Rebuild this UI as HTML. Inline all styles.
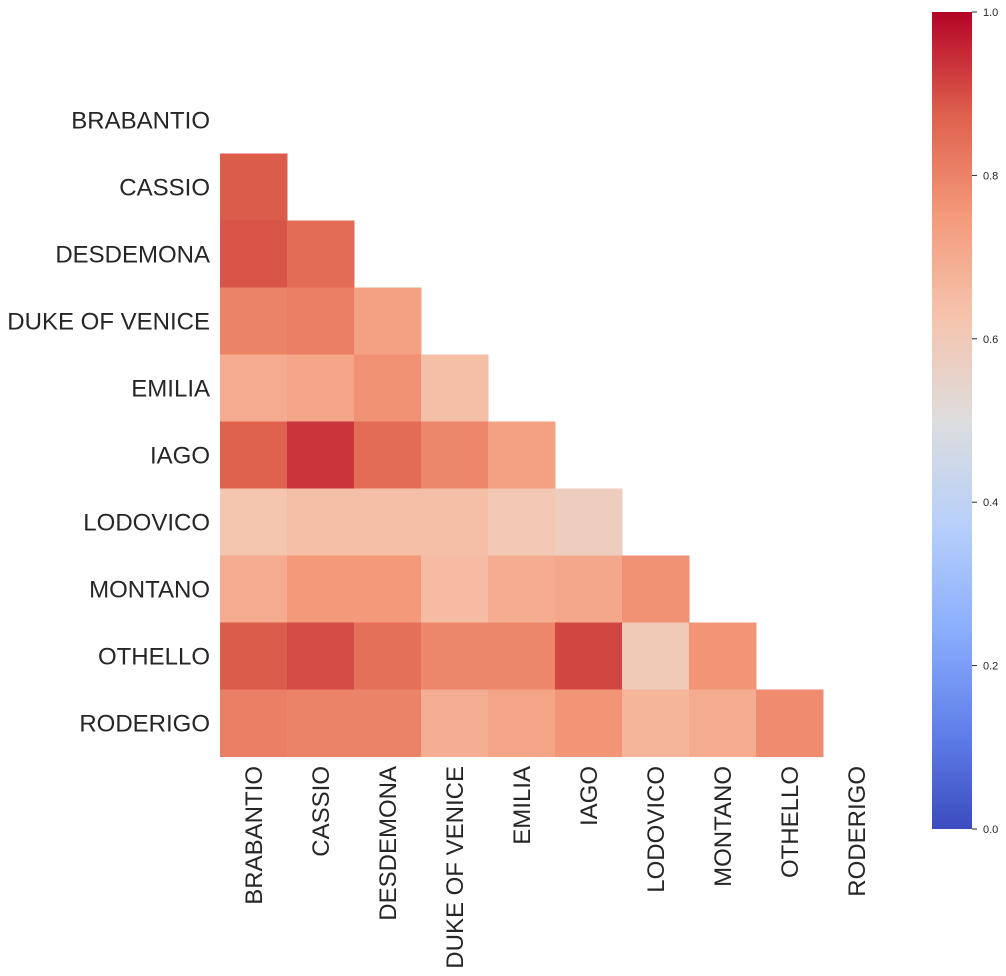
<!DOCTYPE html>
<html><head><meta charset="utf-8"><style>
html,body{margin:0;padding:0;background:#fff;}
svg{display:block;font-family:"Liberation Sans","DejaVu Sans",sans-serif;}
</style></head><body>
<svg id="chart" width="1006" height="976" viewBox="0 0 1006 976" xmlns="http://www.w3.org/2000/svg">
<defs>
<linearGradient id="cbgrad" x1="0" y1="1" x2="0" y2="0">
<stop offset="0" stop-color="rgb(59,76,192)"/>
<stop offset="0.125" stop-color="rgb(98,130,234)"/>
<stop offset="0.25" stop-color="rgb(141,176,254)"/>
<stop offset="0.375" stop-color="rgb(184,208,249)"/>
<stop offset="0.5" stop-color="rgb(221,221,221)"/>
<stop offset="0.625" stop-color="rgb(245,196,173)"/>
<stop offset="0.75" stop-color="rgb(244,154,123)"/>
<stop offset="0.875" stop-color="rgb(222,96,77)"/>
<stop offset="1" stop-color="rgb(180,4,38)"/>
</linearGradient>
</defs>
<g id="cells"></g>
<g id="ylabels"></g>
<g id="xlabels"></g>
<rect x="932" y="12" width="40" height="817" fill="url(#cbgrad)"/>
<g id="cbticks"></g>
</svg>
<script>
const names = ["BRABANTIO","CASSIO","DESDEMONA","DUKE OF VENICE","EMILIA","IAGO","LODOVICO","MONTANO","OTHELLO","RODERIGO"];
const rowCassio = [0.88];
const rowDesdemona = [0.89,0.85];
const rowDuke = [0.80,0.81,0.73];
const rowEmilia = [0.70,0.72,0.77,0.64];
const rowIago = [0.87,0.935,0.85,0.79,0.73];
const rowLodovico = [0.62,0.64,0.64,0.64,0.61,0.58];
const rowMontano = [0.70,0.75,0.75,0.65,0.70,0.71,0.77];
const rowOthello = [0.88,0.905,0.84,0.79,0.79,0.91,0.60,0.76];
const rowRoderigo = [0.81,0.80,0.80,0.69,0.72,0.76,0.67,0.70,0.78];
const cbTicks = [0.0,0.2,0.4,0.6,0.8,1.0];

const rows = [[],rowCassio,rowDesdemona,rowDuke,rowEmilia,rowIago,rowLodovico,rowMontano,rowOthello,rowRoderigo];
const NS="http://www.w3.org/2000/svg";
const X0=220, Y0=86.5, CW=67, CH=67;
const xPos=i=>X0+i*CW, yPos=j=>Y0+j*CH;
const cbY=v=>829-v*817;
const stops=[[0,59,76,192],[0.125,98,130,234],[0.25,141,176,254],[0.375,184,208,249],[0.5,221,221,221],[0.625,245,196,173],[0.75,244,154,123],[0.875,222,96,77],[1,180,4,38]];
function cmap(v){v=Math.max(0,Math.min(1,v));for(let k=1;k<stops.length;k++){if(v<=stops[k][0]){const a=stops[k-1],b=stops[k],t=(v-a[0])/(b[0]-a[0]);return `rgb(${[1,2,3].map(c=>Math.round(a[c]+(b[c]-a[c])*t)).join(',')})`;}}return 'rgb(180,4,38)';}
const cells=document.getElementById('cells');
rows.forEach((r,j)=>r.forEach((v,i)=>{
  const e=document.createElementNS(NS,'rect');
  e.setAttribute('x',xPos(i));e.setAttribute('y',yPos(j));
  e.setAttribute('width',CW+0.5);e.setAttribute('height',CH+0.5);
  e.setAttribute('fill',cmap(v));
  
  
  cells.appendChild(e);
}));
const yl=document.getElementById('ylabels'), xl=document.getElementById('xlabels');
names.forEach((n,k)=>{
  const t=document.createElementNS(NS,'text');
  t.setAttribute('x',210);t.setAttribute('y',yPos(k)+CH/2+8.5);
  t.setAttribute('text-anchor','end');t.setAttribute('font-size','24');t.setAttribute('fill','#262626');
  t.textContent=n;
  
  
  yl.appendChild(t);
  const u=document.createElementNS(NS,'text');
  const cx=xPos(k)+CW/2+8.5;
  u.setAttribute('transform',`translate(${cx},766) rotate(-90)`);
  u.setAttribute('text-anchor','end');u.setAttribute('font-size','24');u.setAttribute('fill','#262626');
  u.textContent=n;
  
  
  xl.appendChild(u);
});
const cbt=document.getElementById('cbticks');
cbTicks.forEach(v=>{
  const l=document.createElementNS(NS,'line');
  l.setAttribute('x1',972);l.setAttribute('x2',977);l.setAttribute('y1',cbY(v));l.setAttribute('y2',cbY(v));
  l.setAttribute('stroke','#262626');l.setAttribute('stroke-width','1');
  
  
  cbt.appendChild(l);
  const t=document.createElementNS(NS,'text');
  t.setAttribute('x',983);t.setAttribute('y',cbY(v)+4);t.setAttribute('font-size','11');t.setAttribute('fill','#262626');
  t.textContent=v.toFixed(1);
  
  
  cbt.appendChild(t);
});
</script>
</body></html>
